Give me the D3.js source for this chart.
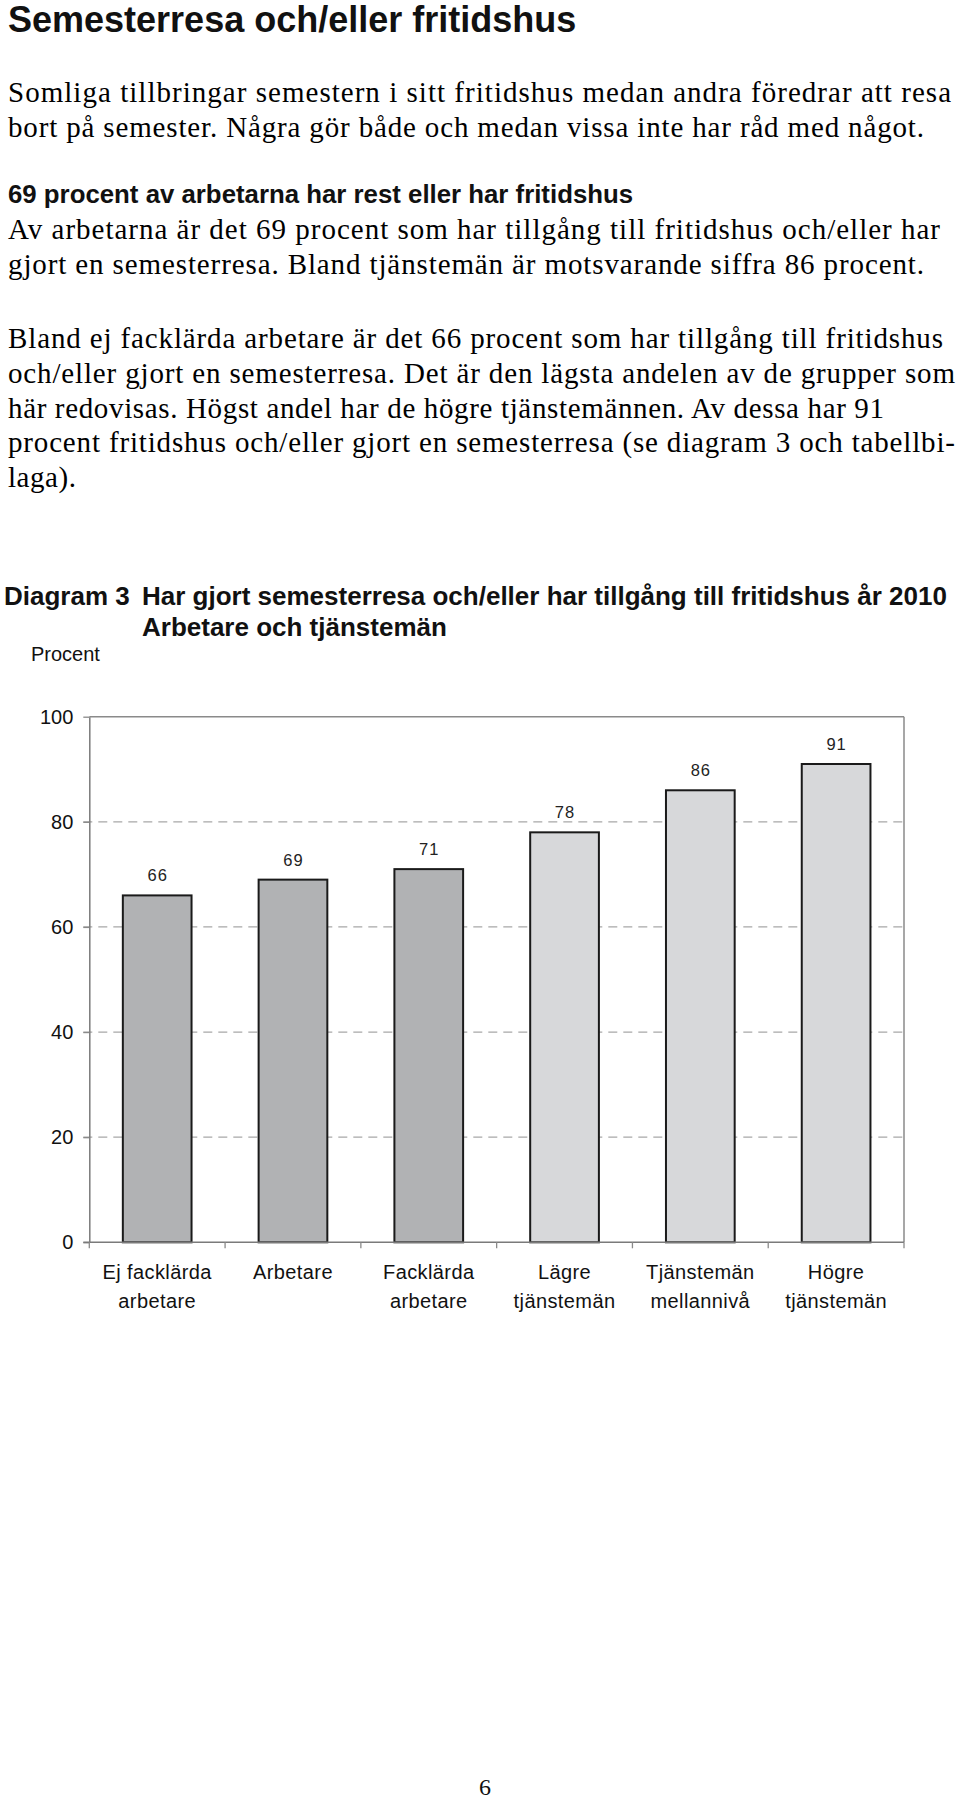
<!DOCTYPE html>
<html><head><meta charset="utf-8">
<script src="https://cdn.jsdelivr.net/npm/d3@7"></script>
<style>body{margin:0;background:#fff}svg{display:block}</style>
</head><body>
<svg id="c" width="960" height="1799"></svg>
<script>
// ---- data ----
const categories = ["Ej facklärda arbetare", "Arbetare", "Facklärda arbetare", "Lägre tjänstemän", "Tjänstemän mellannivå", "Högre tjänstemän"];
const categoryLines = [["Ej facklärda", "arbetare"], ["Arbetare"], ["Facklärda", "arbetare"], ["Lägre", "tjänstemän"], ["Tjänstemän", "mellannivå"], ["Högre", "tjänstemän"]];
const values = [66, 69, 71, 78, 86, 91];
const groups = ["arbetare", "arbetare", "arbetare", "tjänstemän", "tjänstemän", "tjänstemän"];
const yTicks = [0, 20, 40, 60, 80, 100];
const gridTicks = [20, 40, 60, 80];

const pageTitle = "Semesterresa och/eller fritidshus";
const para1 = ["Somliga tillbringar semestern i sitt fritidshus medan andra föredrar att resa",
               "bort på semester. Några gör både och medan vissa inte har råd med något."];
const heading = "69 procent av arbetarna har rest eller har fritidshus";
const para2 = ["Av arbetarna är det 69 procent som har tillgång till fritidshus och/eller har",
               "gjort en semesterresa. Bland tjänstemän är motsvarande siffra 86 procent."];
const para3 = ["Bland ej facklärda arbetare är det 66 procent som har tillgång till fritidshus",
               "och/eller gjort en semesterresa. Det är den lägsta andelen av de grupper som",
               "här redovisas. Högst andel har de högre tjänstemännen. Av dessa har 91",
               "procent fritidshus och/eller gjort en semesterresa (se diagram 3 och tabellbi-",
               "laga)."];
const diagLabel = "Diagram 3";
const diagTitle = ["Har gjort semesterresa och/eller har tillgång till fritidshus år 2010", "Arbetare och tjänstemän"];
const yUnit = "Procent";
const pageNo = "6";

(function () {
// ---- drawing ----
const svg = d3.select("#c");
const SANS = "'Liberation Sans', Arial, Helvetica, sans-serif";
const SERIF = "'Liberation Serif', 'Times New Roman', serif";

// typeset line ends (layout only) of the body paragraphs
const lineEnds1 = [951, 924];
const lineEnds2 = [940, 924];
const lineEnds3 = [943, 955, 884, 955, 76];

svg.append("text").attr("x", 8).attr("y", 32)
  .attr("font-family", SANS).attr("font-weight", "bold").attr("font-size", 36)
  .attr("fill", "#111").text(pageTitle);

function serifLines(lines, ends, y0) {
  svg.append("g").selectAll("text").data(lines).join("text")
    .attr("x", 8).attr("y", (d, i) => y0 + i * 34.8)
    .attr("font-family", SERIF).attr("font-size", 29)
    .attr("textLength", (d, i) => ends[i] - 8).attr("lengthAdjust", "spacing")
    .attr("fill", "#000").text(d => d);
}
serifLines(para1, lineEnds1, 101.7);
svg.append("text").attr("x", 8).attr("y", 202.7)
  .attr("font-family", SANS).attr("font-weight", "bold").attr("font-size", 25.8)
  .attr("fill", "#111").text(heading);
serifLines(para2, lineEnds2, 239.3);
serifLines(para3, lineEnds3, 348);

// diagram title
svg.append("text").attr("x", 4).attr("y", 605)
  .attr("font-family", SANS).attr("font-weight", "bold").attr("font-size", 26)
  .attr("fill", "#111").text(diagLabel);
svg.append("g").selectAll("text").data(diagTitle).join("text")
  .attr("x", 142).attr("y", (d, i) => 605 + i * 31)
  .attr("font-family", SANS).attr("font-weight", "bold").attr("font-size", 26)
  .attr("fill", "#111").text(d => d);
svg.append("text").attr("x", 31).attr("y", 661)
  .attr("font-family", SANS).attr("font-size", 20).attr("fill", "#111").text(yUnit);

// chart
const pL = 89.3, pR = 904, pT = 716.7, pB = 1242.3;
const x = d3.scaleBand().domain(categories).range([pL, pR]).paddingInner(0.494).paddingOuter(0.247);
const y = d3.scaleLinear().domain([0, 100]).range([pB, pT]);
const color = d3.scaleOrdinal().domain(["arbetare", "tjänstemän"]).range(["#b1b2b4", "#d7d8da"]);

const data = categories.map((c, i) => ({c, v: values[i], g: groups[i], lines: categoryLines[i]}));

// grid
svg.append("g").selectAll("line").data(gridTicks).join("line")
  .attr("x1", pL - 6).attr("x2", pR)
  .attr("y1", d => y(d)).attr("y2", d => y(d))
  .attr("stroke", "#a8a8a8").attr("stroke-width", 1.3).attr("stroke-dasharray", "9,6");

// frame top & right
svg.append("line").attr("x1", pL).attr("x2", pR).attr("y1", y(100)).attr("y2", y(100))
  .attr("stroke", "#8a8a8a").attr("stroke-width", 1.5);
svg.append("line").attr("x1", pR).attr("x2", pR).attr("y1", y(100)).attr("y2", y(0))
  .attr("stroke", "#8a8a8a").attr("stroke-width", 1.5);

// y axis
const ya = svg.append("g").attr("transform", `translate(${pL},0)`)
  .call(d3.axisLeft(y).tickValues(yTicks).tickSize(6).tickSizeOuter(0).tickPadding(10));
ya.select(".domain").attr("stroke", "#7a7a7a").attr("stroke-width", 1.5);
ya.selectAll(".tick line").attr("stroke", "#8a8a8a").attr("stroke-width", 1.3);
ya.selectAll(".tick text").attr("font-family", SANS).attr("font-size", 20).attr("fill", "#111");

// bars
svg.append("g").selectAll("rect").data(data).join("rect")
  .attr("x", d => x(d.c)).attr("width", x.bandwidth())
  .attr("y", d => y(d.v)).attr("height", d => y(0) - y(d.v))
  .attr("fill", d => color(d.g)).attr("stroke", "#1a1a1a").attr("stroke-width", 2);

// value labels
svg.append("g").selectAll("text").data(data).join("text")
  .attr("x", d => x(d.c) + x.bandwidth() / 2 + 0.5).attr("y", d => y(d.v) - 14)
  .attr("text-anchor", "middle").attr("font-family", SANS).attr("font-size", 16.5)
  .attr("letter-spacing", 1).attr("fill", "#222").text(d => d.v);

// x axis
const xa = svg.append("g").attr("transform", `translate(0,${y(0)})`)
  .call(d3.axisBottom(x).tickSize(0).tickPadding(0));
xa.select(".domain").remove();
xa.selectAll(".tick text").each(function(c, i) {
  const t = d3.select(this).text(null).attr("y", null).attr("dy", null)
    .attr("font-family", SANS).attr("font-size", 20).attr("letter-spacing", 0.4).attr("fill", "#111");
  data[i].lines.forEach((l, j) => t.append("tspan").attr("x", 0).attr("y", 37 + j * 29).text(l));
});
svg.append("line").attr("x1", pL - 6).attr("x2", pR).attr("y1", y(0)).attr("y2", y(0))
  .attr("stroke", "#7a7a7a").attr("stroke-width", 1.5);
const bounds = d3.range(categories.length + 1).map(i => pL + i * x.step());
svg.append("g").selectAll("line").data(bounds).join("line")
  .attr("x1", d => d).attr("x2", d => d).attr("y1", y(0)).attr("y2", y(0) + 6)
  .attr("stroke", "#8a8a8a").attr("stroke-width", 1.3);

// page number
svg.append("text").attr("x", 485).attr("y", 1795).attr("text-anchor", "middle")
  .attr("font-family", SERIF).attr("font-size", 24).attr("fill", "#111").text(pageNo);
})();
</script>
</body></html>
